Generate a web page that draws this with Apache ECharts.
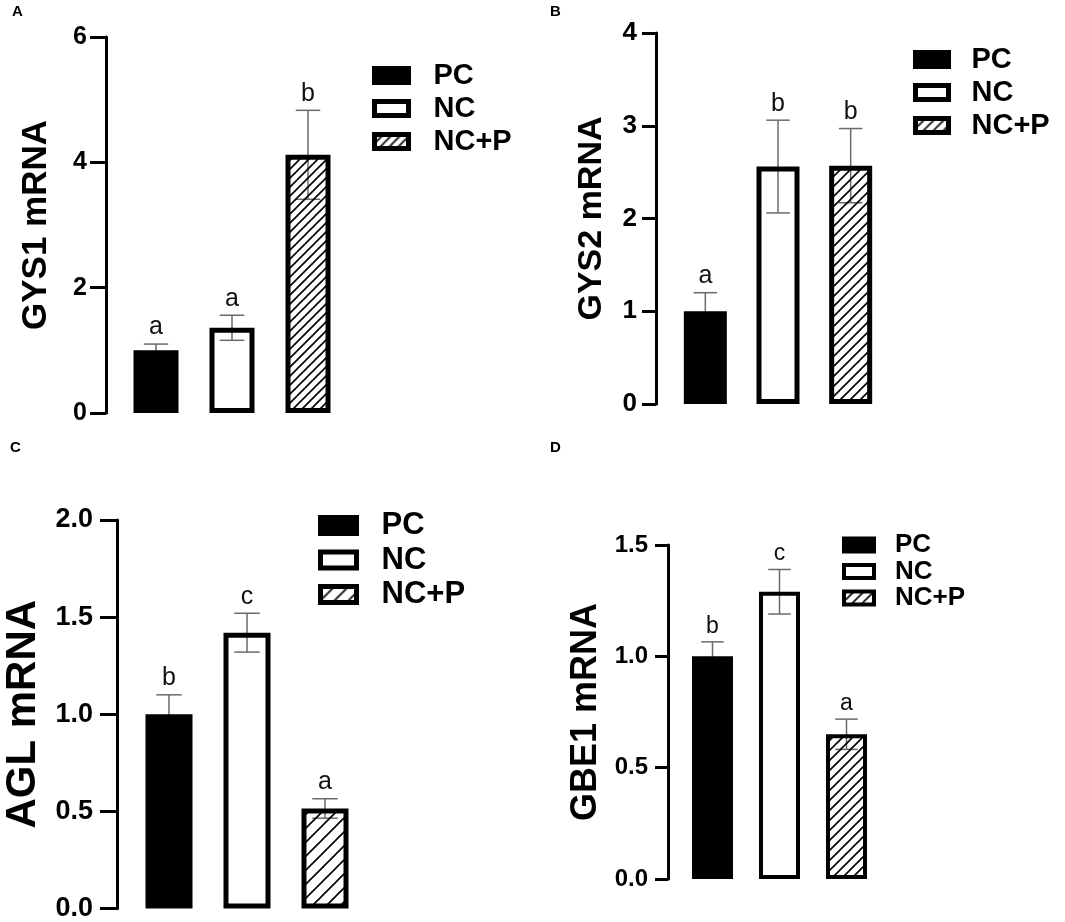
<!DOCTYPE html>
<html>
<head>
<meta charset="utf-8">
<script src="https://cdn.jsdelivr.net/npm/echarts@6/dist/echarts.min.js"></script>
<style>
  html, body { margin: 0; padding: 0; background: #fff; }
  #main { width: 1065px; height: 922px; }
</style>
</head>
<body>
<div id="main"></div>
<script>
// groups shown in every panel
const groups = ['PC', 'NC', 'NC+P'];

// A - GYS1
const gys1Mean = [1.0, 1.36, 4.12];
const gys1Err = [0.1, 0.2, 0.71];
const gys1Letters = ['a', 'a', 'b'];
// B - GYS2
const gys2Mean = [1.0, 2.56, 2.57];
const gys2Err = [0.2, 0.5, 0.4];
const gys2Letters = ['a', 'b', 'b'];
// C - AGL
const aglMean = [1.0, 1.42, 0.515];
const aglErr = [0.1, 0.1, 0.05];
const aglLetters = ['b', 'c', 'a'];
// D - GBE1
const gbe1Mean = [1.0, 1.29, 0.65];
const gbe1Err = [0.065, 0.1, 0.068];
const gbe1Letters = ['b', 'c', 'a'];

// y axis ticks
const yMaxA = 6, yStepA = 2;
const yMaxB = 4, yStepB = 1;
const yMaxC = 2, yStepC = 0.5;
const yMaxD = 1.5, yStepD = 0.5;

const FONT = '"Liberation Sans", Arial, Helvetica, sans-serif';

// hatch "////" pattern, transparent background
function hatch(step, lw) {
  const c = document.createElement('canvas');
  c.width = step; c.height = step;
  const ctx = c.getContext('2d');
  ctx.strokeStyle = '#000';
  ctx.lineWidth = lw;
  ctx.beginPath();
  ctx.moveTo(0, step); ctx.lineTo(step, 0);
  ctx.moveTo(-step / 2, step / 2); ctx.lineTo(step / 2, -step / 2);
  ctx.moveTo(step / 2, step * 1.5); ctx.lineTo(step * 1.5, step / 2);
  ctx.stroke();
  return { image: c, repeat: 'repeat' };
}

const panels = [
  { tag: 'A', title: 'GYS1 mRNA', mean: gys1Mean, err: gys1Err, letters: gys1Letters, max: yMaxA, step: yStepA, dec: 0,
    grid: { left: 118, top: 37, width: 228, height: 376 }, offset: 12, barW: 45, bw: 5, hatch: 9,
    nameSize: 35, nameGap: 52, tickSize: 25, tickLen: 16, labMargin: 19, letSize: 25,
    legend: { left: 372, top: 61, w: 34, h: 14, gap: 4, font: 29, pad: 20 }, tagPos: [12, 4] },
  { tag: 'B', title: 'GYS2 mRNA', mean: gys2Mean, err: gys2Err, letters: gys2Letters, max: yMaxB, step: yStepB, dec: 0,
    grid: { left: 669, top: 33, width: 218, height: 371 }, offset: 13, barW: 43, bw: 5, hatch: 10,
    nameSize: 34, nameGap: 47, tickSize: 26, tickLen: 14, labMargin: 19, letSize: 25,
    legend: { left: 913, top: 45, w: 33, h: 14, gap: 4, font: 29, pad: 18 }, tagPos: [550, 4] },
  { tag: 'C', title: 'AGL mRNA', mean: aglMean, err: aglErr, letters: aglLetters, max: yMaxC, step: yStepC, dec: 1,
    grid: { left: 130, top: 520, width: 234, height: 389 }, offset: 13, barW: 47, bw: 5, hatch: 14,
    nameSize: 42, nameGap: 73, tickSize: 27, tickLen: 17, labMargin: 24, letSize: 25,
    legend: { left: 318, top: 510, w: 36, h: 16, gap: 3.5, font: 31, pad: 20 }, tagPos: [10, 440] },
  { tag: 'D', title: 'GBE1 mRNA', mean: gbe1Mean, err: gbe1Err, letters: gbe1Letters, max: yMaxD, step: yStepD, dec: 1,
    grid: { left: 679, top: 545, width: 201, height: 334 }, offset: 11, barW: 41, bw: 4, hatch: 10,
    nameSize: 36, nameGap: 64, tickSize: 24, tickLen: 13, labMargin: 20, letSize: 23,
    legend: { left: 842, top: 532, w: 30, h: 13, gap: 0.5, font: 26, pad: 16 }, tagPos: [550, 440] }
];

const grids = [], xAxes = [], yAxes = [], series = [], legends = [], graphics = [];

panels.forEach(function (p, i) {
  const fills = ['#000', 'rgba(255,255,255,0)', hatch(p.hatch, 1.6)];
  grids.push(p.grid);
  xAxes.push({
    type: 'category', gridIndex: i, data: groups, show: false
  });
  yAxes.push({
    type: 'value', gridIndex: i, min: 0, max: p.max, interval: p.step, offset: p.offset,
    name: p.title, nameLocation: 'middle', nameRotate: 90, nameGap: p.nameGap,
    nameTextStyle: { fontFamily: FONT, fontWeight: 'bold', fontSize: p.nameSize, color: '#000' },
    axisLine: { show: true, lineStyle: { color: '#000', width: 3 } },
    axisTick: { show: true, length: p.tickLen, lineStyle: { color: '#000', width: 3 } },
    axisLabel: {
      fontFamily: FONT, fontWeight: 'bold', fontSize: p.tickSize, color: '#000', margin: p.labMargin,
      formatter: function (v) { return v.toFixed(p.dec); }
    },
    splitLine: { show: false }
  });

  // error bars + significance letters, drawn under the bars
  series.push({
    type: 'custom', xAxisIndex: i, yAxisIndex: i, z: 1, silent: true,
    data: p.mean.map(function (m, k) { return [k, m, p.err[k]]; }),
    renderItem: function (params, api) {
      const x = api.value(0), m = api.value(1), e = api.value(2);
      const top = api.coord([x, m + e]);
      const bot = api.coord([x, m - e]);
      const half = p.barW / 4 + 1;
      const st = { stroke: '#6a6a6a', lineWidth: 1.5 };
      return {
        type: 'group',
        children: [
          { type: 'line', shape: { x1: top[0], y1: top[1], x2: bot[0], y2: bot[1] }, style: st },
          { type: 'line', shape: { x1: top[0] - half, y1: top[1], x2: top[0] + half, y2: top[1] }, style: st },
          { type: 'line', shape: { x1: bot[0] - half, y1: bot[1], x2: bot[0] + half, y2: bot[1] }, style: st },
          { type: 'text', style: {
              text: p.letters[params.dataIndex], x: top[0], y: top[1] - 4,
              align: 'center', verticalAlign: 'bottom',
              fontFamily: FONT, fontSize: p.letSize, fill: '#111'
          } }
        ]
      };
    }
  });

  groups.forEach(function (g, j) {
    series.push({
      type: 'bar', name: g, xAxisIndex: i, yAxisIndex: i, z: 3, silent: true,
      barWidth: p.barW, barGap: '-100%',
      data: p.mean.map(function (m, k) { return k === j ? m : '-'; }),
      itemStyle: { color: fills[j], borderColor: '#000', borderWidth: p.bw }
    });
  });

  const L = p.legend;
  legends.push({
    orient: 'vertical', left: L.left, top: L.top, padding: 0,
    itemWidth: L.w, itemHeight: L.h, itemGap: L.gap,
    selectedMode: false, icon: 'rect',
    itemStyle: { borderColor: '#000', borderWidth: p.bw },
    textStyle: { fontFamily: FONT, fontWeight: 'bold', fontSize: L.font, color: '#000', padding: [0, 0, 0, L.pad] },
    data: groups.map(function (g, j) { return { name: g, itemStyle: { color: fills[j] } }; })
  });

  graphics.push({
    type: 'text', left: p.tagPos[0], top: p.tagPos[1],
    style: { text: p.tag, fontFamily: FONT, fontWeight: 'bold', fontSize: 15, fill: '#000' }
  });
});

const myChart = echarts.init(document.getElementById('main'));
myChart.setOption({
  animation: false,
  backgroundColor: '#fff',
  grid: grids,
  xAxis: xAxes,
  yAxis: yAxes,
  legend: legends,
  graphic: graphics,
  series: series
});
</script>
</body>
</html>
